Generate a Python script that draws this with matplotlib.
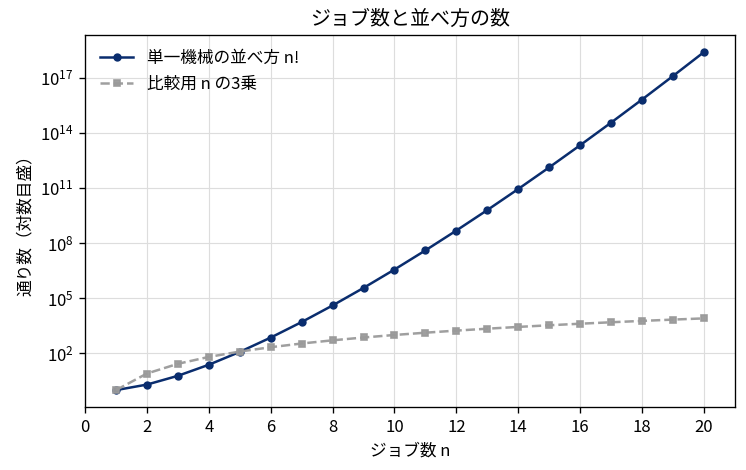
import matplotlib
matplotlib.use("Agg")
import matplotlib.pyplot as plt

plt.rcParams['font.family'] = ['Noto Sans CJK JP', 'DejaVu Sans']

n_values = [1, 2, 3, 4, 5, 6, 7, 8, 9, 10, 11, 12, 13, 14, 15, 16, 17, 18, 19, 20]
factorial_values = [1, 2, 6, 24, 120, 720, 5040, 40320, 362880, 3628800,
                    39916800, 479001600, 6227020800, 87178291200,
                    1307674368000, 20922789888000, 355687428096000,
                    6402373705728000, 121645100408832000, 2432902008176640000]
cube_values = [1, 8, 27, 64, 125, 216, 343, 512, 729, 1000, 1331, 1728, 2197,
               2744, 3375, 4096, 4913, 5832, 6859, 8000]
y_ticks = [1e2, 1e5, 1e8, 1e11, 1e14, 1e17]
x_ticks = [0, 2, 4, 6, 8, 10, 12, 14, 16, 18, 20]

fig, ax = plt.subplots(figsize=(746 / 120, 470 / 120), dpi=120)
ax.plot(n_values, factorial_values, color='#0a2d6e', marker='o', markersize=4,
        linewidth=1.5, label='単一機械の並べ方 n!')
ax.plot(n_values, cube_values, color='#9a9a9a', marker='s', markersize=3.5,
        linewidth=1.5, linestyle='--', label='比較用 n の3乗', alpha=0.95)
ax.set_yscale('log')
ax.set_yticks(y_ticks)
ax.minorticks_off()
ax.set_xticks(x_ticks)
ax.set_xlim(0, 21)
ax.grid(True, color='#dddddd', linewidth=0.7)
ax.set_axisbelow(True)
ax.set_title('ジョブ数と並べ方の数', fontsize=12)
ax.set_xlabel('ジョブ数 n', fontsize=10)
ax.set_ylabel('通り数（対数目盛）', fontsize=10)
ax.legend(loc='upper left', frameon=False, fontsize=10)
fig.subplots_adjust(left=0.114, right=0.985, top=0.925, bottom=0.134)
fig.savefig('out.png', dpi=120)
